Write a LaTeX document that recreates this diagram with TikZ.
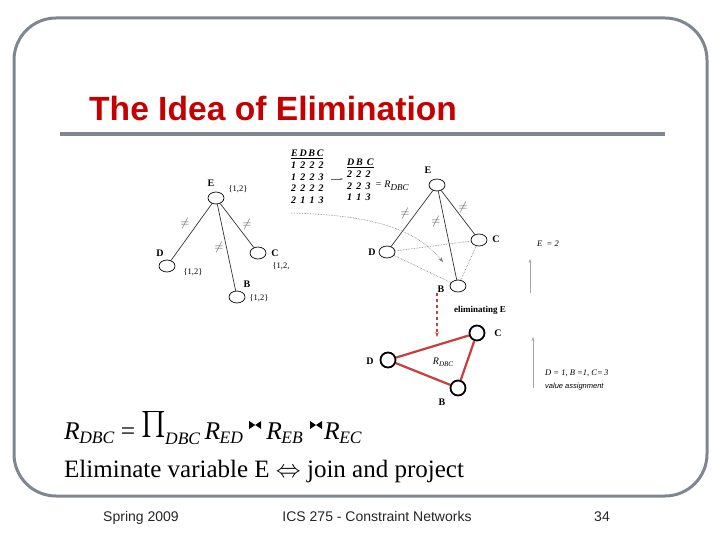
\documentclass[tikz,border=0pt]{standalone}
\usepackage{graphicx}
\usepackage{fontspec}
\setmainfont{Liberation Serif}
\newfontfamily\arialf{Liberation Sans}
\usetikzlibrary{shapes.geometric,arrows.meta}
\definecolor{framec}{RGB}{128,134,145}
\definecolor{titlered}{RGB}{196,0,0}
\definecolor{edgered}{RGB}{200,62,62}
\definecolor{lgray}{RGB}{165,165,165}
\newcommand\myR[1]{\textit{R}\kern-0.5pt\lower4.5pt\hbox{\fontsize{17.5}{17.5}\selectfont\textit{#1}}}
\begin{document}
\begin{tikzpicture}[x=1pt,y=-1pt,
  el/.style={draw, ellipse, minimum width=16pt, minimum height=12pt, inner sep=0pt, line width=0.7pt},
  cnode/.style={draw, circle, minimum size=15pt, inner sep=0pt, line width=1.8pt},
  lab/.style={font=\fontsize{10}{10}\selectfont\bfseries, inner sep=0pt},
  dom/.style={font=\fontsize{8.5}{8.5}\selectfont, inner sep=0pt},
  neq/.style={font=\fontsize{12}{12}\selectfont, inner sep=0pt, text=black!70},
  gedge/.style={line width=0.7pt, black!80},
  dotedge/.style={line width=0.6pt, black!55, densely dotted},
  redge/.style={line width=2.2pt, edgered},
  tbl/.style={font=\fontsize{10}{11.6}\selectfont\bfseries\itshape, inner sep=0pt, align=left},
  fml/.style={font=\fontsize{25.5}{25.5}\selectfont, inner sep=0pt},
  foot/.style={font=\arialf\fontsize{14}{14}\selectfont, inner sep=0pt, text=black!85, anchor=base},
  joinsym/.pic={\fill (-6,-4) -- (-6,4) -- (6,-4) -- (6,4) -- cycle;}
]
\useasboundingbox (0,0) rectangle (720,540);
\fill[white] (0,0) rectangle (720,540);

% frame and title
\draw[framec, line width=3pt, rounded corners=42pt] (14,18) rectangle (707,496);
\draw[framec, line width=4pt] (60,134) -- (665,134);
\node[anchor=base west, inner sep=0pt, text=titlered, font=\arialf\bfseries\fontsize{33.6}{33.6}\selectfont] (title) at (89,121) {The Idea of Elimination};

% left graph
\node[el] (E1) at (216,198) {};
\node[el] (D1) at (167,266) {};
\node[el] (C1) at (258,253) {};
\node[el] (B1) at (237,297) {};
\node[lab] (E1l) at (211,183) {E};
\node[lab] (D1l) at (160,253) {D};
\node[lab] (C1l) at (275,253) {C};
\node[lab] (B1l) at (247,284) {B};
\node[dom] (E1d) at (238,189) {\{1,2\}};
\node[dom] (D1d) at (193,272) {\{1,2\}};
\node[dom] (C1d) at (281,266) {\{1,2,};
\node[dom] (B1d) at (259,298) {\{1,2\}};
\draw[gedge] (E1) -- (D1);
\draw[gedge] (E1) -- (B1);
\draw[gedge] (E1) -- (C1);
\node[neq] (n1) at (185,223) {$\neq$};
\node[neq] (n2) at (219,248) {$\neq$};
\node[neq] (n3) at (247,225) {$\neq$};

% tables
\node[tbl, anchor=north west] (T1) at (291,150) {\underline{E\,D\,B\,C}\\1\, 2\, 2\, 2\\1\, 2\, 2\, 3\\2\, 2\, 2\, 2\\2\, 1\, 1\, 3};
\node[tbl, anchor=north west] (T2) at (347,159) {\underline{D\,B\,\ C}\\2\, 2\,\ 2\\2\, 2\,\ 3\\1\, 1\,\ 3};
\node[font=\fontsize{10}{10}\selectfont\itshape, inner sep=0pt, anchor=west] (eqR) at (375,186) {= \textit{R}\lower2.5pt\hbox{\fontsize{9}{9}\selectfont\textit{DBC}}};
\coordinate (a1s) at (331,179);
\coordinate (a1e) at (343,179);
\draw[black!60, line width=0.5pt, -{Stealth[length=3pt]}] (a1s) -- (a1e);

% right graph
\node[el] (E2) at (437,185) {};
\node[el] (C2) at (479,240) {};
\node[el] (D2) at (387,252) {};
\node[el] (B2) at (458,286) {};
\node[lab] (E2l) at (428,170) {E};
\node[lab] (C2l) at (496,239) {C};
\node[lab] (D2l) at (372,252) {D};
\node[lab] (B2l) at (441,289) {B};
\draw[gedge] (E2) -- (D2);
\draw[gedge] (E2) -- (C2);
\draw[gedge] (E2) -- (B2);
\draw[dotedge] (D2) -- (C2);
\draw[dotedge] (D2) -- (B2);
\draw[dotedge] (C2) -- (B2);
\node[neq] (n4) at (405,213) {$\neq$};
\node[neq] (n5) at (436,222) {$\neq$};
\node[neq] (n6) at (463,208) {$\neq$};
\coordinate (cs) at (291,213);
\coordinate (ce) at (443,262);
\draw[dotedge, -{Stealth[length=5pt]}] (cs) .. controls (370,215) and (415,228) .. (ce);

% right-side notes
\node[font=\fontsize{8.5}{8.5}\selectfont\itshape, inner sep=0pt] (E2eq) at (548,244) {E \ = 2};
\coordinate (g1s) at (530,293);
\coordinate (g1e) at (530,259);
\draw[lgray, line width=0.6pt, -{Stealth[length=4pt]}] (g1s) -- (g1e);
\coordinate (g2s) at (533,388);
\coordinate (g2e) at (533,337);
\draw[lgray, line width=0.6pt, -{Stealth[length=4pt]}] (g2s) -- (g2e);
\node[font=\fontsize{8.5}{8.5}\selectfont\itshape, inner sep=0pt, anchor=west] (assign) at (545,373) {D = 1, B =1, C=\,3};
\node[font=\arialf\fontsize{7.5}{7.5}\selectfont\itshape, inner sep=0pt, anchor=west] (vass) at (545,387) {value assignment};

% red graph
\coordinate (rs) at (437,293);
\coordinate (re) at (437,337);
\draw[edgered, line width=1.6pt, dashed, -{Stealth[length=5pt]}] (rs) -- (re);
\node[font=\fontsize{9}{9}\selectfont\bfseries, inner sep=0pt] (elim) at (480,310) {eliminating E};
\node[cnode] (C3) at (477,333) {};
\node[cnode] (D3) at (388,360) {};
\node[cnode] (B3) at (458,388) {};
\draw[redge] (D3) -- (C3);
\draw[redge] (D3) -- (B3);
\draw[redge] (C3) -- (B3);
\node[lab, font=\fontsize{10}{10}\selectfont\bfseries] (C3l) at (498,333) {C};
\node[lab, font=\fontsize{10}{10}\selectfont\bfseries] (D3l) at (370,361) {D};
\node[lab, font=\fontsize{10}{10}\selectfont\bfseries] (B3l) at (442,402) {B};
\node[inner sep=0pt, font=\fontsize{10}{10}\selectfont\itshape] (RL) at (443,362) {R\lower2pt\hbox{\fontsize{7}{7}\selectfont DBC}};

% formulas
\node[fml, anchor=base west] (f1) at (64,439) {\myR{DBC} = \raisebox{-2pt}{\scalebox{2.6}{$\prod$}}\kern-1pt\lower5pt\hbox{\fontsize{17.5}{17.5}\selectfont\textit{DBC}}\,\myR{ED}};
\path ([xshift=12pt,yshift=14pt]f1.base east) pic {joinsym};
\node[fml, anchor=base west] (f2) at ([xshift=23pt]f1.base east) {\myR{EB}};
\path ([xshift=13pt,yshift=14pt]f2.base east) pic {joinsym};
\node[fml, anchor=base west] (f3) at ([xshift=21pt]f2.base east) {\myR{EC}};
\node[fml, font=\fontsize{25}{25}\selectfont, anchor=base west] (f4) at (64,477) {Eliminate variable E $\Leftrightarrow$ join and project};

% footer
\node[foot] (ft1) at (141,521) {Spring 2009};
\node[foot] (ft2) at (377,521) {ICS 275 - Constraint Networks};
\node[foot] (ft3) at (602,521) {34};
\end{tikzpicture}
\end{document}
